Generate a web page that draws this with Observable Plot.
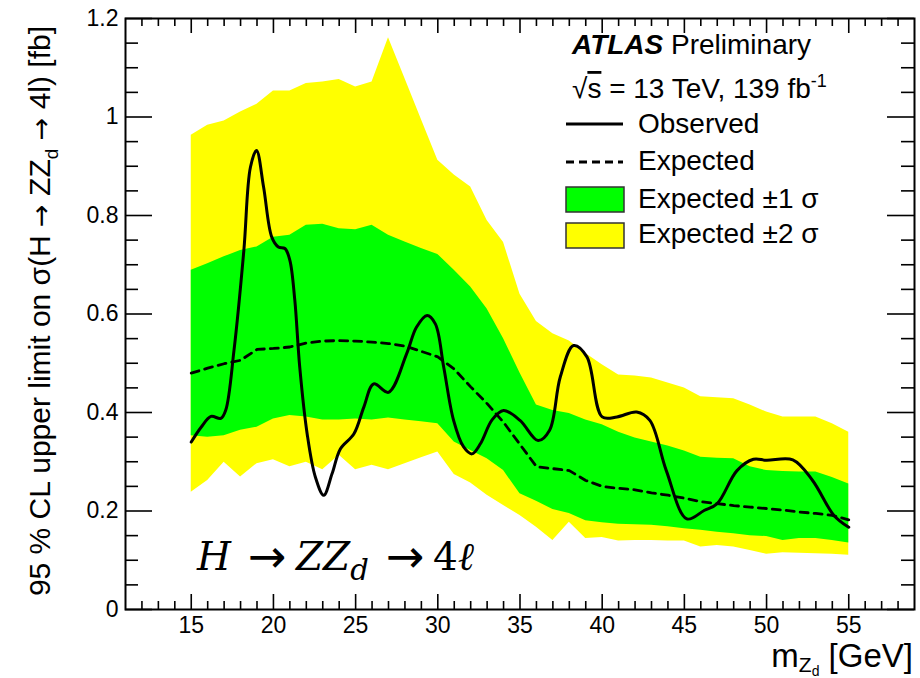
<!DOCTYPE html>
<html>
<head>
<meta charset="utf-8">
<script src="https://cdn.jsdelivr.net/npm/d3@7"></script>
<script src="https://cdn.jsdelivr.net/npm/@observablehq/plot@0.6"></script>
<style>
  html, body { margin: 0; padding: 0; background: #fff; }
  #chart svg { display: block; }
</style>
</head>
<body>
<div id="chart"></div>
<script>
// ---- data ----
const mass = [15,16,17,18,19,20,21,22,23,24,25,26,27,28,29,30,31,32,33,34,35,36,37,38,39,40,41,42,43,44,45,46,47,48,49,50,51,52,53,54,55];
const expected = [0.480,0.490,0.499,0.506,0.528,0.530,0.533,0.541,0.545,0.546,0.545,0.543,0.540,0.535,0.524,0.513,0.488,0.452,0.418,0.380,0.335,0.290,0.286,0.282,0.262,0.250,0.246,0.243,0.237,0.232,0.226,0.219,0.215,0.211,0.208,0.205,0.202,0.198,0.195,0.191,0.182];
const plus1 = [0.689,0.702,0.716,0.729,0.736,0.756,0.760,0.780,0.782,0.773,0.771,0.780,0.760,0.746,0.733,0.721,0.689,0.655,0.610,0.550,0.480,0.415,0.404,0.398,0.385,0.375,0.360,0.348,0.340,0.332,0.322,0.309,0.307,0.306,0.290,0.282,0.280,0.279,0.279,0.268,0.255];
const minus1 = [0.353,0.350,0.353,0.364,0.370,0.387,0.394,0.391,0.385,0.385,0.387,0.385,0.389,0.385,0.381,0.377,0.340,0.323,0.306,0.282,0.235,0.220,0.203,0.195,0.180,0.176,0.173,0.172,0.171,0.168,0.164,0.161,0.157,0.154,0.150,0.148,0.140,0.144,0.144,0.140,0.135];
const plus2 = [0.963,0.983,0.992,1.010,1.026,1.053,1.053,1.068,1.071,1.076,1.061,1.071,1.161,1.078,0.995,0.912,0.882,0.858,0.790,0.745,0.640,0.585,0.560,0.545,0.520,0.497,0.476,0.474,0.470,0.460,0.450,0.432,0.430,0.428,0.415,0.401,0.391,0.391,0.391,0.377,0.360];
const minus2 = [0.238,0.262,0.299,0.269,0.296,0.304,0.290,0.299,0.284,0.313,0.284,0.293,0.284,0.296,0.308,0.320,0.274,0.257,0.232,0.211,0.191,0.167,0.140,0.177,0.144,0.146,0.139,0.140,0.140,0.139,0.139,0.127,0.130,0.127,0.120,0.112,0.115,0.114,0.113,0.112,0.110];

const obsMass = [15,15.6,16.2,16.8,17.1,17.6,18.2,18.6,18.97,19.4,19.9,20.3,20.7,21.0,21.3,21.6,22.05,22.55,23.06,23.57,24.07,24.9,25.5,26.1,27.0,28.1,28.7,29.35,29.85,30.36,30.96,31.57,32.08,32.6,33.3,34.0,35.0,36.1,36.8,37.45,38.26,39.07,40.0,40.9,42.1,42.9,43.9,45.15,46.2,47.0,48.2,49.2,50.0,51.6,52.8,54.1,55];
const observed = [0.340,0.370,0.392,0.388,0.405,0.526,0.729,0.898,0.932,0.858,0.756,0.736,0.733,0.709,0.628,0.492,0.357,0.269,0.232,0.276,0.326,0.357,0.411,0.458,0.441,0.519,0.573,0.597,0.580,0.492,0.384,0.330,0.316,0.337,0.385,0.404,0.384,0.343,0.364,0.472,0.536,0.513,0.391,0.391,0.401,0.384,0.282,0.184,0.201,0.215,0.282,0.305,0.303,0.304,0.262,0.191,0.167];

const xMajor = [15,20,25,30,35,40,45,50,55];
const xMinor = [12,13,14,16,17,18,19,21,22,23,24,26,27,28,29,31,32,33,34,36,37,38,39,41,42,43,44,46,47,48,49,51,52,53,54,56,57,58];
const yMajor = [0,0.2,0.4,0.6,0.8,1,1.2];
const yMinor = [0.05,0.1,0.15,0.25,0.3,0.35,0.45,0.5,0.55,0.65,0.7,0.75,0.85,0.9,0.95,1.05,1.1,1.15];

const bands = mass.map((m, i) => ({m, exp: expected[i], lo1: minus1[i], hi1: plus1[i], lo2: minus2[i], hi2: plus2[i]}));
const obs = obsMass.map((m, i) => ({m, v: observed[i]}));

const W = 920, H = 678, mL = 125, mR = 6, mT = 18, mB = 69;
const pw = W - mL - mR, ph = H - mT - mB;
const font = "Liberation Sans, Arial, Helvetica, sans-serif";
const arrowFont = "DejaVu Sans, sans-serif";

const svg = Plot.plot({
  width: W, height: H,
  marginLeft: mL, marginRight: mR, marginTop: mT, marginBottom: mB,
  style: {fontFamily: font, background: "#fff", color: "#000"},
  x: {domain: [11, 59]},
  y: {domain: [0, 1.2]},
  marks: [
    Plot.areaY(bands, {x: "m", y1: "lo2", y2: "hi2", fill: "#ffff00", fillOpacity: 1}),
    Plot.areaY(bands, {x: "m", y1: "lo1", y2: "hi1", fill: "#00ff00", fillOpacity: 1}),
    Plot.line(bands, {x: "m", y: "exp", stroke: "#000", strokeWidth: 2.8, strokeDasharray: "8,6"}),
    Plot.line(obs, {x: "m", y: "v", curve: "catmull-rom", stroke: "#000", strokeWidth: 3}),
    // inward ticks (ROOT style) on all four sides
    Plot.tickX(xMajor, {x: d => d, insetTop: ph - 15, stroke: "#000", strokeWidth: 1.6}),
    Plot.tickX(xMinor, {x: d => d, insetTop: ph - 8, stroke: "#000", strokeWidth: 1.6}),
    Plot.tickX(xMajor, {x: d => d, insetBottom: ph - 15, stroke: "#000", strokeWidth: 1.6}),
    Plot.tickX(xMinor, {x: d => d, insetBottom: ph - 8, stroke: "#000", strokeWidth: 1.6}),
    Plot.tickY(yMajor, {y: d => d, insetRight: pw - 27, stroke: "#000", strokeWidth: 1.6}),
    Plot.tickY(yMinor, {y: d => d, insetRight: pw - 13, stroke: "#000", strokeWidth: 1.6}),
    Plot.tickY(yMajor, {y: d => d, insetLeft: pw - 27, stroke: "#000", strokeWidth: 1.6}),
    Plot.tickY(yMinor, {y: d => d, insetLeft: pw - 13, stroke: "#000", strokeWidth: 1.6}),
    Plot.frame({stroke: "#000", strokeWidth: 2}),
    Plot.axisX({ticks: xMajor, tickSize: 0, tickPadding: 7, fontSize: 23, tickFormat: d => String(d), label: null}),
    Plot.axisY({ticks: yMajor, tickSize: 0, tickPadding: 7, fontSize: 23, tickFormat: d => String(+d.toFixed(1)), label: null})
  ]
});

const s = d3.select(svg);

// y-axis title
const yt = s.append("text")
  .attr("transform", "translate(50,26) rotate(-90)")
  .attr("text-anchor", "end")
  .attr("font-family", font).attr("font-size", 30).attr("fill", "#000");
yt.append("tspan").text("95 % CL upper limit on σ(H ");
yt.append("tspan").attr("font-family", arrowFont).attr("font-size", 27).text("→");
yt.append("tspan").text(" ZZ");
yt.append("tspan").attr("dy", 8).attr("font-size", 19).text("d");
yt.append("tspan").attr("dy", -8).text(" ");
yt.append("tspan").attr("font-family", arrowFont).attr("font-size", 27).text("→");
yt.append("tspan").text(" 4l) [fb]");

// x-axis title
const xt = s.append("text")
  .attr("x", 913).attr("y", 667)
  .attr("text-anchor", "end")
  .attr("font-family", font).attr("font-size", 33).attr("fill", "#000");
xt.append("tspan").text("m");
xt.append("tspan").attr("dy", 5).attr("font-size", 21).text("Z");
xt.append("tspan").attr("dy", 4).attr("font-size", 14).text("d");
xt.append("tspan").attr("dy", -9).text(" [GeV]");

// legend / labels
const lf = 28;
const t1 = s.append("text").attr("x", 572).attr("y", 54).attr("text-anchor", "start")
  .attr("font-family", font).attr("font-size", lf).attr("fill", "#000");
t1.append("tspan").attr("font-weight", "bold").attr("font-style", "italic").text("ATLAS");
t1.append("tspan").text(" Preliminary");

const t2 = s.append("text").attr("x", 572).attr("y", 98).attr("text-anchor", "start")
  .attr("font-family", font).attr("font-size", lf).attr("fill", "#000");
t2.append("tspan").text("√");
t2.append("tspan").attr("text-decoration", "overline").text("s");
t2.append("tspan").text(" = 13 TeV, 139 fb");
t2.append("tspan").attr("dy", -11).attr("font-size", 18).text("-1");

const legendItems = [
  {label: "Observed", y: 133},
  {label: "Expected", y: 170},
  {label: "Expected ±1 σ", y: 208},
  {label: "Expected ±2 σ", y: 243}
];
legendItems.forEach(d => s.append("text").attr("x", 638).attr("y", d.y).attr("text-anchor", "start")
  .attr("font-family", font).attr("font-size", lf).attr("fill", "#000").text(d.label));

s.append("line").attr("x1", 566).attr("x2", 623).attr("y1", 124).attr("y2", 124)
  .attr("stroke", "#000").attr("stroke-width", 3);
s.append("line").attr("x1", 566).attr("x2", 623).attr("y1", 162).attr("y2", 162)
  .attr("stroke", "#000").attr("stroke-width", 2.8).attr("stroke-dasharray", "8,5");
s.append("rect").attr("x", 566).attr("y", 187).attr("width", 58).attr("height", 25)
  .attr("fill", "#00ff00").attr("stroke", "#333").attr("stroke-width", 1.5);
s.append("rect").attr("x", 566).attr("y", 223).attr("width", 58).attr("height", 25)
  .attr("fill", "#ffff00").attr("stroke", "#333").attr("stroke-width", 1.5);

// process annotation
const serif = "DejaVu Serif, Liberation Serif, serif";
const pa = s.append("text").attr("y", 570).attr("text-anchor", "start")
  .attr("font-family", serif).attr("font-size", 39).attr("fill", "#000");
pa.append("tspan").attr("x", 197).attr("font-style", "italic").text("H");
pa.append("tspan").attr("x", 248).attr("dy", 2).attr("font-family", arrowFont).attr("font-size", 46).text("→");
pa.append("tspan").attr("x", 296).attr("dy", -2).attr("font-style", "italic").text("ZZ");
pa.append("tspan").attr("font-style", "italic").attr("font-size", 29).attr("dy", 10).text("d");
pa.append("tspan").attr("x", 386).attr("dy", -8).attr("font-family", arrowFont).attr("font-size", 46).text("→");
pa.append("tspan").attr("x", 433).attr("dy", -2).text("4");
pa.append("tspan").attr("font-style", "italic").text("ℓ");

document.getElementById("chart").appendChild(svg);
</script>
</body>
</html>
